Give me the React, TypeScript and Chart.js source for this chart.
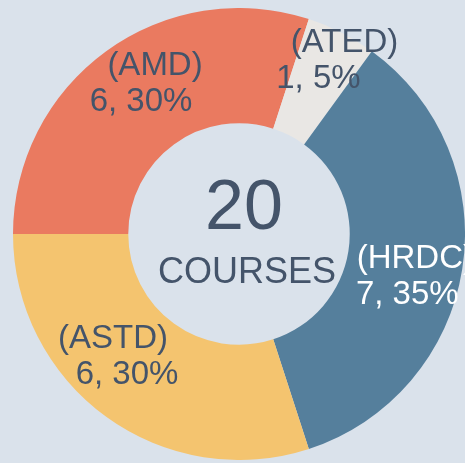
import React, { useEffect, useRef } from "react";
import { Chart, registerables } from "chart.js";

Chart.register(...registerables);

const categories = ["AMD", "ATED", "HRDC", "ASTD"];
const courseCounts = [6, 1, 7, 6];
const percentLabels = ["30%", "5%", "35%", "30%"];
const totalCourses = 20;
const centerCaption = "COURSES";

const sliceColors = ["#EA7A60", "#E9E7E4", "#557F9C", "#F4C46F"];
const labelColors = ["#44546A", "#44546A", "#FFFFFF", "#44546A"];
// label nudges relative to each slice's centroid: [dx, dy, line1 dx, line2 dx]
const labelNudges = [
  [8, -17, 7, -7],
  [16, -26, 13, -13],
  [6, 14, 4, -4],
  [-20, -16, -7, 7],
];

const FONT = "'Liberation Sans', Arial, sans-serif";

const labelPlugin = {
  id: "sliceLabels",
  afterDatasetsDraw(chart: any) {
    const ctx = chart.ctx;
    const meta = chart.getDatasetMeta(0);
    ctx.save();
    ctx.textAlign = "center";
    ctx.textBaseline = "alphabetic";
    ctx.font = `33px ${FONT}`;
    meta.data.forEach((arc: any, i: number) => {
      const p = arc.tooltipPosition();
      const n = labelNudges[i];
      const bx = p.x + n[0];
      const by = p.y + n[1];
      ctx.fillStyle = labelColors[i];
      ctx.fillText(`(${categories[i]})`, bx + n[2], by - 6);
      ctx.fillText(`${courseCounts[i]}, ${percentLabels[i]}`, bx + n[3], by + 30);
    });
    const c = meta.data[0];
    ctx.fillStyle = "#44546A";
    ctx.font = `70px ${FONT}`;
    ctx.fillText(String(totalCourses), c.x + 5, c.y - 5);
    ctx.font = `36px ${FONT}`;
    ctx.fillText(centerCaption, c.x + 8, c.y + 49);
    ctx.restore();
  },
};

export default function App() {
  const ref = useRef<HTMLCanvasElement | null>(null);
  useEffect(() => {
    if (!ref.current) return;
    const chart = new Chart(ref.current, {
      type: "doughnut",
      data: {
        labels: categories,
        datasets: [
          {
            data: courseCounts,
            backgroundColor: sliceColors,
            borderWidth: 0,
          },
        ],
      },
      options: {
        responsive: false,
        animation: false,
        rotation: -90,
        cutout: "49%",
        layout: { padding: 0 },
        plugins: {
          legend: { display: false },
          tooltip: { enabled: false },
        },
      },
      plugins: [labelPlugin],
    });
    return () => chart.destroy();
  }, []);
  return (
    <div
      style={{
        position: "fixed",
        left: 0,
        top: 0,
        width: 465,
        height: 463,
        background: "#DAE2EB",
        overflow: "hidden",
      }}
    >
      <canvas
        ref={ref}
        width={452}
        height={452}
        style={{ position: "absolute", left: 13, top: 8, width: 452, height: 452 }}
      />
    </div>
  );
}
